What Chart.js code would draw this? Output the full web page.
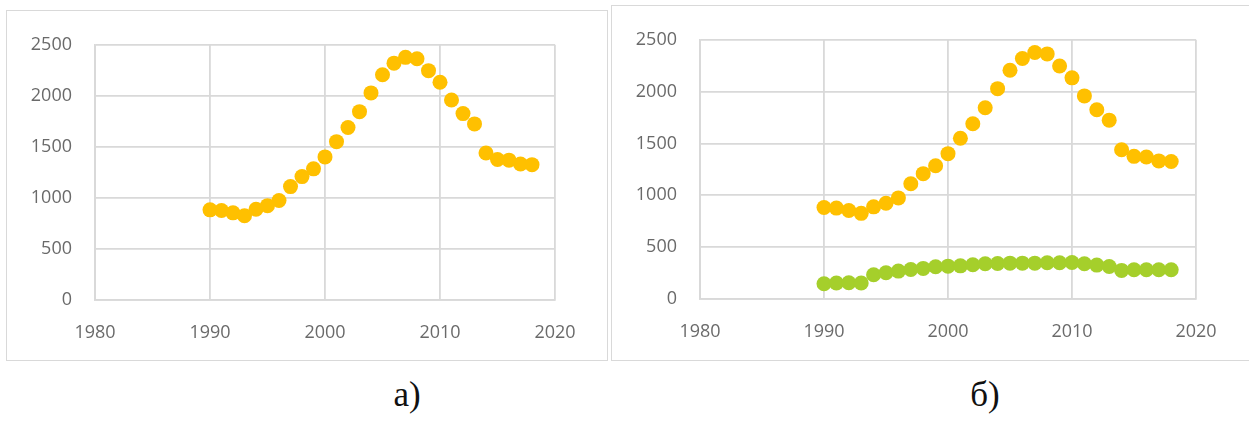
<!DOCTYPE html>
<html>
<head>
<meta charset="utf-8">
<script src="https://cdn.jsdelivr.net/npm/chart.js@4"></script>
<style>
  html, body { margin: 0; padding: 0; background: #fff; width: 1249px; height: 421px; overflow: hidden; }
  .panel { position: absolute; border: 1px solid #d9d9d9; box-sizing: border-box; }
  canvas { position: absolute; }
  .cap { position: absolute; font-family: "Liberation Serif", "DejaVu Serif", serif; font-size: 35px; color: #111; transform: translate(-50%, -50%); white-space: nowrap; }
</style>
</head>
<body>
<div class="panel" style="left:6px; top:10px; width:602px; height:351px;"></div>
<div class="panel" style="left:611px; top:5px; width:660px; height:356px;"></div>
<canvas id="chartA" width="598" height="348" style="left:8px; top:11px;"></canvas>
<canvas id="chartB" width="637" height="354" style="left:612px; top:6px;"></canvas>
<div class="cap" style="left:407px; top:395px;">а)</div>
<div class="cap" style="left:985px; top:395px;">б)</div>
<script>
// Years of observation
const years = [1990, 1991, 1992, 1993, 1994, 1995, 1996, 1997, 1998, 1999,
               2000, 2001, 2002, 2003, 2004, 2005, 2006, 2007, 2008, 2009,
               2010, 2011, 2012, 2013, 2014, 2015, 2016, 2017, 2018];

// Upper series (yellow)
const seriesYellow = [883, 877, 854, 826, 889, 924, 975, 1111, 1209, 1285,
                      1402, 1551, 1690, 1845, 2029, 2206, 2320, 2377, 2364, 2247,
                      2133, 1959, 1826, 1725, 1440, 1376, 1370, 1332, 1326];

// Lower series (green)
const seriesGreen = [147, 154, 157, 154, 234, 253, 269, 285, 295, 311,
                     317, 320, 330, 340, 343, 346, 346, 346, 349, 349,
                     352, 340, 327, 314, 276, 282, 282, 282, 282];

// Axis ticks
const xTicks = [1980, 1990, 2000, 2010, 2020];
const yTicks = [0, 500, 1000, 1500, 2000, 2500];

const YELLOW = '#FFC000';
const GREEN = '#A5CF2B';
const GRID = '#d9d9d9';
const TICK_COLOR = '#6a6a6a';
const TICK_FONT = { family: '"Open Sans", "DejaVu Sans", sans-serif', size: 18 };

function toPoints(xs, ys) {
  return xs.map((x, i) => ({ x: x, y: ys[i] }));
}

function makeDataset(values, color) {
  return {
    data: toPoints(years, values),
    backgroundColor: color,
    borderColor: color,
    borderWidth: 0,
    pointRadius: 7.5,
    pointHoverRadius: 7.5,
    showLine: false
  };
}

function makeOptions(yWidth, xHeight, padRight, padTop) {
  return {
    responsive: false,
    animation: false,
    devicePixelRatio: 1,
    layout: { padding: { left: 0, right: padRight, top: padTop, bottom: 0 } },
    plugins: { legend: { display: false }, tooltip: { enabled: false } },
    scales: {
      x: {
        type: 'linear',
        min: xTicks[0],
        max: xTicks[xTicks.length - 1],
        afterBuildTicks: (scale) => { scale.ticks = xTicks.map(v => ({ value: v })); },
        afterFit: (scale) => { scale.height = xHeight; },
        grid: { color: GRID, lineWidth: 1.8, drawTicks: false },
        border: { color: GRID, width: 1.8 },
        ticks: { color: TICK_COLOR, font: TICK_FONT, padding: 22, callback: (v) => String(v), maxRotation: 0 }
      },
      y: {
        type: 'linear',
        min: yTicks[0],
        max: yTicks[yTicks.length - 1],
        afterBuildTicks: (scale) => { scale.ticks = yTicks.map(v => ({ value: v })); },
        afterFit: (scale) => { scale.width = yWidth; },
        grid: { color: GRID, lineWidth: 1.8, drawTicks: false },
        border: { color: GRID, width: 1.8 },
        ticks: { color: TICK_COLOR, font: TICK_FONT, padding: 23, callback: (v) => String(v) }
      }
    }
  };
}

new Chart(document.getElementById('chartA'), {
  type: 'scatter',
  data: { datasets: [makeDataset(seriesYellow, YELLOW)] },
  options: makeOptions(87, 59, 51, 29)
});

new Chart(document.getElementById('chartB'), {
  type: 'scatter',
  data: { datasets: [makeDataset(seriesYellow, YELLOW), makeDataset(seriesGreen, GREEN)] },
  options: makeOptions(88, 61, 53, 31)
});
</script>
</body>
</html>
